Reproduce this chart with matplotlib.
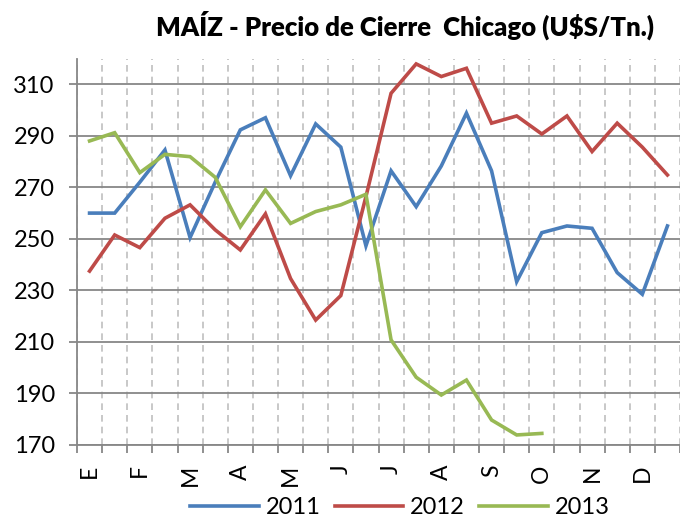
import matplotlib
matplotlib.use("Agg")
import matplotlib.pyplot as plt
import numpy as np

months = ["E", "F", "M", "A", "M", "J", "J", "A", "S", "O", "N", "D"]
s2011 = [260, 260, 272, 284.5, 250.5, 272, 292.3, 297, 274.5, 294.6, 285.6, 247.3,
         276.4, 262.5, 278.3, 298.8, 276.4, 233.4, 252.4, 255, 254.1, 236.9, 228.5, 255]
s2012 = [237.5, 251.5, 246.6, 258, 263.2, 253.5, 245.7, 259.7, 234.6, 218.5, 228, 266.4,
         306.5, 317.9, 313, 316.2, 294.9, 297.7, 290.7, 297.7, 283.9, 294.9, 285.6, 274.8]
s2013 = [288, 291.2, 275.7, 282.8, 281.9, 273.9, 254.7, 269, 256, 260.6, 263.2, 267.3,
         210.8, 196.3, 189.4, 195.2, 179.7, 173.9, 174.5]
series = [("2011", s2011, "#4A7EBB"), ("2012", s2012, "#BE4B48"), ("2013", s2013, "#98B954")]

plt.rcParams['font.family'] = ['Lato', 'DejaVu Sans']

fig = plt.figure(figsize=(6.8, 5.19), dpi=100)
ax = fig.add_axes([77/680, 74/519, 603/680, (445-58.5)/519])

handles = []
for name, vals, col in series:
    h, = ax.plot(np.arange(len(vals)), vals, color=col, lw=2.6, label=name,
                 solid_joinstyle='miter', zorder=3)
    handles.append(h)

ax.set_xlim(-0.5, 23.5)
ax.set_ylim(170, 320)
ax.set_yticks(np.arange(170, 311, 20))
ax.set_xticks(np.arange(-0.5, 24, 1))
ax.set_xticklabels([])
ax.set_xticks(np.arange(0, 24, 2), minor=True)
ax.set_xticklabels(months, minor=True, rotation=90, va='top', ha='center')
ax.tick_params(axis='x', which='minor', length=0, pad=14, labelsize=16.5)
ax.tick_params(axis='x', which='major', length=6, width=1.3, color='#878787', direction='out')
ax.tick_params(axis='y', length=6, width=1.3, color='#878787', labelsize=17, pad=10)

ax.grid(axis='y', color='#878787', lw=1.3, zorder=1)
ax.grid(axis='x', which='major', color='#BFBFBF', lw=1.2, ls=(0, (4, 3)), zorder=1)
for s in ['top', 'right']:
    ax.spines[s].set_visible(False)
for s in ['left', 'bottom']:
    ax.spines[s].set_color('#878787')
    ax.spines[s].set_linewidth(1.3)

fig.text(405/680, 1 - 25/519, "MAÍZ - Precio de Cierre  Chicago (U$S/Tn.)",
         ha='center', va='center', fontsize=18.5, fontweight='heavy')

fig.legend(handles=handles, loc='center', bbox_to_anchor=(400/680, 1 - 508/519),
           ncol=3, frameon=False, fontsize=17, handlelength=2.9, handletextpad=0.3,
           columnspacing=0.6, borderpad=0)

fig.savefig("out.png", dpi=100)
